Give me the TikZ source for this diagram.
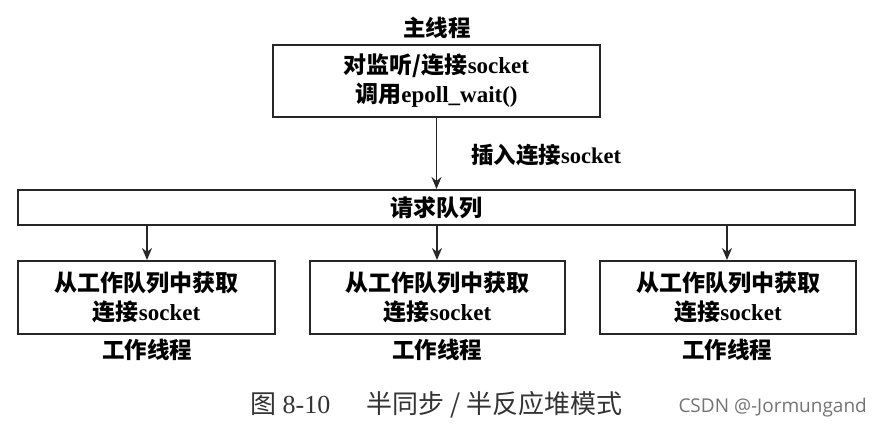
\documentclass[tikz,border=0pt]{standalone}
\usepackage{fontspec}
\setmainfont{Liberation Serif}
\newfontfamily\cjk{Noto Sans CJK SC}
\newfontfamily\wmfont{Open Sans}
\usetikzlibrary{arrows.meta}
\tikzset{
  boxstyle/.style={draw=black!85, line width=2pt, inner sep=0pt, align=center, font=\fontsize{23}{29}\selectfont\bfseries},
  lbl/.style={inner sep=0pt, font=\fontsize{22.5}{26}\selectfont\bfseries},
  conn/.style={draw=black!85, line width=1.8pt, -{Stealth[length=12pt,width=10pt]}}
}
\begin{document}
\begin{tikzpicture}[x=1pt,y=-1pt]
\useasboundingbox (0,0) rectangle (881,428);
\node[boxstyle, minimum width=327pt, minimum height=72pt] (main) at (436.5,81)
  {{\cjk 对监听/连接}socket\\{\cjk 调用}epoll\_wait()};
\node[lbl] (mainlbl) at (437,28) {\cjk 主线程};
\node[boxstyle, minimum width=837pt, minimum height=35pt] (queue) at (436.5,207.5) {\cjk 请求队列};
\node[boxstyle, minimum width=257pt, minimum height=73pt] (w1) at (146.5,297.5)
  {{\cjk 从工作队列中获取}\\{\cjk 连接}socket};
\node[boxstyle, minimum width=255pt, minimum height=73pt] (w2) at (437.5,297.5)
  {{\cjk 从工作队列中获取}\\{\cjk 连接}socket};
\node[boxstyle, minimum width=256pt, minimum height=73pt] (w3) at (728,297.5)
  {{\cjk 从工作队列中获取}\\{\cjk 连接}socket};
\node[lbl] (t1) at (147,350) {\cjk 工作线程};
\node[lbl] (t2) at (437,350) {\cjk 工作线程};
\node[lbl] (t3) at (727,350) {\cjk 工作线程};
\node[lbl, anchor=west] (ins) at (471,155) {{\cjk 插入连接}socket};
\draw[conn] (main.south) -- (main.south |- queue.north);
\coordinate (q1) at (147,225);
\coordinate (q2) at (437,225);
\coordinate (q3) at (727,225);
\draw[conn] (q1) -- (q1 |- w1.north);
\draw[conn] (q2) -- (q2 |- w2.north);
\draw[conn] (q3) -- (q3 |- w3.north);
\node[anchor=west, inner sep=0pt, font=\fontsize{26}{30}\selectfont, text=black!80] (cap) at (250,405)
  {{\cjk 图} 8-10\hspace{1.4em}{\cjk 半同步 / 半反应堆模式}};
\node[anchor=east, inner sep=0pt, font=\fontsize{19}{22}\selectfont\wmfont, text=black!55] (wm) at (867,408)
  {CSDN @-Jormungand};
\end{tikzpicture}
\end{document}
